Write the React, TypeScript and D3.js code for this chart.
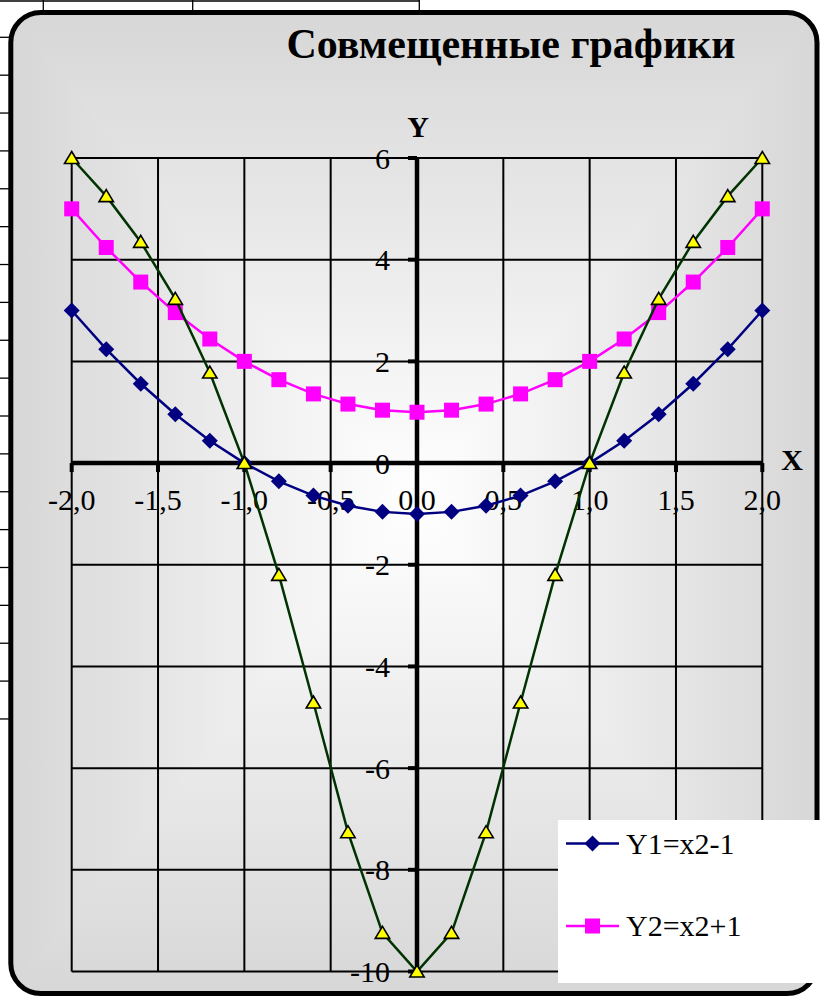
import React from "react";
import * as d3 from "d3";

const xValues = [-2.0, -1.8, -1.6, -1.4, -1.2, -1.0, -0.8, -0.6, -0.4, -0.2, 0.0, 0.2, 0.4, 0.6, 0.8, 1.0, 1.2, 1.4, 1.6, 1.8, 2.0];
const y1Values = [3.0, 2.24, 1.56, 0.96, 0.44, 0.0, -0.36, -0.64, -0.84, -0.96, -1.0, -0.96, -0.84, -0.64, -0.36, 0.0, 0.44, 0.96, 1.56, 2.24, 3.0];
const y2Values = [5.0, 4.24, 3.56, 2.96, 2.44, 2.0, 1.64, 1.36, 1.16, 1.04, 1.0, 1.04, 1.16, 1.36, 1.64, 2.0, 2.44, 2.96, 3.56, 4.24, 5.0];
const y3Values = [6.0, 5.25, 4.35, 3.23, 1.78, 0.0, -2.2, -4.71, -7.26, -9.24, -10.0, -9.24, -7.26, -4.71, -2.2, 0.0, 1.78, 3.23, 4.35, 5.25, 6.0];
const xTicks = [-2, -1.5, -1, -0.5, 0, 0.5, 1, 1.5, 2];
const xTickLabels = ["-2,0", "-1,5", "-1,0", "-0,5", "0,0", "0,5", "1,0", "1,5", "2,0"];
const yTicks = [-10, -8, -6, -4, -2, 0, 2, 4, 6];
const legendLabels = ["Y1=x2-1", "Y2=x2+1"];
const chartTitle = "Совмещенные графики";

const W = 820;
const H = 997;
const FONT = "'Liberation Serif', 'Times New Roman', serif";

export default function App() {
  const x = d3.scaleLinear().domain([-2, 2]).range([71.7, 762.3]);
  const y = d3.scaleLinear().domain([-10, 6]).range([971.5, 158]);

  const mk = (vals: number[]) =>
    d3
      .line<number>()
      .x((_, i) => x(xValues[i]))
      .y((d) => y(d))(vals) as string;

  // frame
  const fx0 = 10.8, fy0 = 12.5, fx1 = 817, fy1 = 993.5;
  const cx = (fx0 + fx1) / 2, cy = (fy0 + fy1) / 2;
  const edge = "#d7d7d7";
  const mid = "#ffffff";

  const sheetRows = d3.range(19).map((k) => 37.3 + k * 37.87);
  const sheetCols = [43.3, 192.7, 419.3];

  const diamond = "M0,-8L8,0L0,8L-8,0Z";
  const tri = "M0,-6.5L7.2,5.5L-7.2,5.5Z";

  return (
    <div style={{ position: "absolute", left: 0, top: 0, width: W, height: H, overflow: "hidden" }}>
      <svg width={W} height={H} style={{ display: "block", background: "#fff" }}>
        <defs>
          <linearGradient id="gT" gradientUnits="userSpaceOnUse" x1={cx} y1={fy0} x2={cx} y2={cy}>
            <stop offset="0" stopColor={edge} />
            <stop offset="1" stopColor={mid} />
          </linearGradient>
          <linearGradient id="gB" gradientUnits="userSpaceOnUse" x1={cx} y1={fy1} x2={cx} y2={cy}>
            <stop offset="0" stopColor={edge} />
            <stop offset="1" stopColor={mid} />
          </linearGradient>
          <linearGradient id="gL" gradientUnits="userSpaceOnUse" x1={fx0} y1={cy} x2={cx} y2={cy}>
            <stop offset="0" stopColor={edge} />
            <stop offset="1" stopColor={mid} />
          </linearGradient>
          <linearGradient id="gR" gradientUnits="userSpaceOnUse" x1={fx1} y1={cy} x2={cx} y2={cy}>
            <stop offset="0" stopColor={edge} />
            <stop offset="1" stopColor={mid} />
          </linearGradient>
          <clipPath id="frameClip">
            <rect x={fx0} y={fy0} width={fx1 - fx0} height={fy1 - fy0} rx={30} ry={30} />
          </clipPath>
        </defs>

        {/* spreadsheet cells behind */}
        <g stroke="#000" strokeWidth={1.3}>
          <line x1={0} y1={1} x2={sheetCols[2]} y2={1} />
          {sheetCols.map((c, i) => (
            <line key={"c" + i} x1={c} y1={0} x2={c} y2={14} />
          ))}
          {sheetRows.map((r, i) => (
            <line key={"r" + i} x1={0} y1={r} x2={12} y2={r} />
          ))}
        </g>

        {/* chart area background */}
        <g clipPath="url(#frameClip)">
          <rect x={fx0} y={fy0} width={fx1 - fx0} height={fy1 - fy0} fill="#ececec" />
          <polygon points={`${fx0},${fy0} ${fx1},${fy0} ${cx},${cy}`} fill="url(#gT)" stroke="url(#gT)" strokeWidth={0.6} />
          <polygon points={`${fx0},${fy1} ${fx1},${fy1} ${cx},${cy}`} fill="url(#gB)" stroke="url(#gB)" strokeWidth={0.6} />
          <polygon points={`${fx0},${fy0} ${fx0},${fy1} ${cx},${cy}`} fill="url(#gL)" stroke="url(#gL)" strokeWidth={0.6} />
          <polygon points={`${fx1},${fy0} ${fx1},${fy1} ${cx},${cy}`} fill="url(#gR)" stroke="url(#gR)" strokeWidth={0.6} />
        </g>
        <rect x={fx0} y={fy0} width={fx1 - fx0} height={fy1 - fy0} rx={30} ry={30} fill="none" stroke="#000" strokeWidth={5} />

        {/* title */}
        <text x={511} y={58} textAnchor="middle" fontFamily={FONT} fontWeight="bold" fontSize={42} fill="#000">
          {chartTitle}
        </text>

        {/* gridlines */}
        <g stroke="#000" strokeWidth={2}>
          {xTicks.map((t, i) => (
            <line key={"gx" + i} x1={x(t)} y1={y(6)} x2={x(t)} y2={y(-10)} />
          ))}
          {yTicks.map((t, i) => (
            <line key={"gy" + i} x1={x(-2)} y1={y(t)} x2={x(2)} y2={y(t)} />
          ))}
        </g>

        {/* axes */}
        <g stroke="#000">
          <line x1={x(-2)} y1={y(0)} x2={x(2)} y2={y(0)} strokeWidth={4.5} />
          <line x1={x(0)} y1={y(6)} x2={x(0)} y2={y(-10)} strokeWidth={4.5} />
          {xTicks.map((t, i) => (
            <line key={"tx" + i} x1={x(t)} y1={y(0)} x2={x(t)} y2={y(0) + 9} strokeWidth={4} />
          ))}
          {yTicks.map((t, i) => (
            <line key={"ty" + i} x1={x(0) - 9} y1={y(t)} x2={x(0)} y2={y(t)} strokeWidth={4} />
          ))}
        </g>

        {/* tick labels */}
        <g fontFamily={FONT} fontSize={30} fill="#000">
          {xTicks.map((t, i) => (
            <text key={"lx" + i} x={x(t)} y={510} textAnchor="middle">
              {xTickLabels[i]}
            </text>
          ))}
          {yTicks.map((t, i) => (
            <text key={"ly" + i} x={390} y={y(t) + 10.5} textAnchor="end">
              {String(t)}
            </text>
          ))}
        </g>

        {/* axis titles */}
        <text x={418} y={137} textAnchor="middle" fontFamily={FONT} fontWeight="bold" fontSize={30}>Y</text>
        <text x={792} y={470} textAnchor="middle" fontFamily={FONT} fontWeight="bold" fontSize={30}>X</text>

        {/* series 1 */}
        <path d={mk(y1Values)} fill="none" stroke="#000080" strokeWidth={2.5} />
        {y1Values.map((v, i) => (
          <path key={"m1" + i} d={diamond} transform={`translate(${x(xValues[i])},${y(v)})`} fill="#000080" />
        ))}

        {/* series 2 */}
        <path d={mk(y2Values)} fill="none" stroke="#ff00ff" strokeWidth={2.5} />
        {y2Values.map((v, i) => (
          <rect key={"m2" + i} x={x(xValues[i]) - 7.5} y={y(v) - 7.5} width={15} height={15} fill="#ff00ff" />
        ))}

        {/* series 3 */}
        <path d={mk(y3Values)} fill="none" stroke="#003300" strokeWidth={2.5} />
        {y3Values.map((v, i) => (
          <path key={"m3" + i} d={tri} transform={`translate(${x(xValues[i])},${y(v)})`} fill="#ffff00" stroke="#000" strokeWidth={1.6} strokeLinejoin="miter" />
        ))}

        {/* legend */}
        <rect x={558} y={820} width={262} height={163} fill="#ffffff" />
        <g>
          <line x1={566} y1={843.5} x2={619} y2={843.5} stroke="#000080" strokeWidth={2.5} />
          <path d={diamond} transform="translate(592.5,843.5)" fill="#000080" />
          <text x={626} y={853.5} fontFamily={FONT} fontSize={30}>{legendLabels[0]}</text>
          <line x1={566} y1={926} x2={619} y2={926} stroke="#ff00ff" strokeWidth={2.5} />
          <rect x={585} y={918.5} width={15} height={15} fill="#ff00ff" />
          <text x={626} y={936} fontFamily={FONT} fontSize={30}>{legendLabels[1]}</text>
        </g>
      </svg>
    </div>
  );
}
